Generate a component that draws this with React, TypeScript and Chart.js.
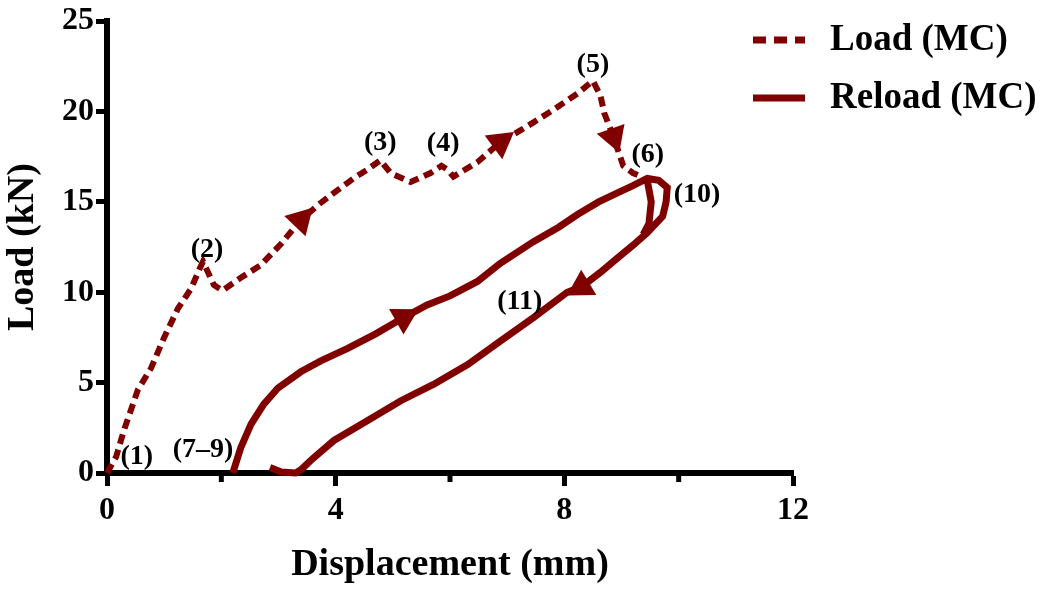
import { useEffect, useRef } from "react";
import { Chart, registerables } from "chart.js";

Chart.register(...registerables);

// Monotonic-cyclic (MC) test: first loading path, in mm / kN
const loadX = [0, 0.16, 0.3, 0.54, 0.77, 1.0, 1.24, 1.47, 1.62, 1.68, 1.87, 2.02, 2.34, 2.69, 3.05, 3.39, 3.72, 3.97, 4.31, 4.56, 4.78, 4.96, 5.31, 5.66, 5.85, 5.95, 6.06, 6.48, 6.88, 7.2, 7.46, 7.81, 8.23, 8.5, 8.63, 8.7, 8.86, 9.03, 9.2, 9.35];
const loadY = [0, 0.9, 2.4, 4.6, 5.8, 7.5, 9.1, 10.2, 11.3, 11.7, 10.4, 10.1, 10.8, 11.5, 12.7, 14.0, 14.9, 15.5, 16.3, 16.8, 17.3, 16.6, 16.1, 16.6, 17.0, 16.8, 16.4, 17.2, 18.3, 18.9, 19.4, 20.1, 21.0, 21.7, 20.9, 19.9, 18.6, 17.0, 16.6, 16.4];

// Reloading / unloading loop (null breaks the inner descending branch off)
const reloadX = [2.2, 2.25, 2.34, 2.52, 2.74, 2.99, 3.39, 3.74, 4.21, 4.7, 5.19, 5.6, 6.0, 6.48, 6.88, 7.46, 7.9, 8.23, 8.6, 8.93, 9.2, 9.45, 9.65, 9.8, 9.78, 9.72, 9.45, 9.2, 8.93, 8.63, 8.3, 8.05, 7.46, 6.88, 6.31, 5.71, 5.14, 4.56, 3.97, 3.6, 3.4, 3.3, 3.05, 2.85, 9.45, 9.45, 9.52, 9.48, 9.38];
const reloadY = [0, 0.5, 1.4, 2.7, 3.8, 4.7, 5.6, 6.2, 6.9, 7.7, 8.6, 9.3, 9.8, 10.6, 11.6, 12.8, 13.6, 14.3, 15.0, 15.5, 15.9, 16.3, 16.2, 15.8, 15.0, 14.2, 13.3, 12.6, 11.9, 11.1, 10.3, 10.0, 8.6, 7.3, 6.0, 4.9, 4.0, 2.9, 1.8, 0.8, 0.2, 0, 0.05, 0.3, null, 16.2, 15.0, 13.8, 13.2];

// Points of each path that carry a direction arrow
const loadArrowIdx = [15, 28, 36];
const reloadArrowIdx = [10, 30];

const seriesNames = ["Load (MC)", "Reload (MC)"];

const xMinorTicks = [2, 6, 10];

// Stage markers along the curves
const stageText = ["(1)", "(2)", "(3)", "(4)", "(5)", "(6)", "(7–9)", "(10)", "(11)"];
const stageX = [0.52, 1.75, 4.78, 5.88, 8.5, 9.46, 1.68, 10.32, 7.22];
const stageY = [0.88, 12.36, 18.3, 18.2, 22.6, 17.6, 1.26, 15.4, 9.5];

const MAROON = "#800000";
const FONT = "'Liberation Serif', 'Times New Roman', serif";

function toPoints(xs: number[], ys: (number | null)[]) {
  return xs.map((x, i) => ({ x, y: ys[i] }));
}

function arrowRotation(xs: number[], ys: (number | null)[]) {
  return (ctx: any) => {
    const i = ctx.dataIndex;
    const sx = ctx.chart.scales?.x;
    const sy = ctx.chart.scales?.y;
    if (i === undefined || !sx || !sy) return 0;
    const a = Math.max(0, i - 1);
    const b = Math.min(xs.length - 1, i + 1);
    const dx = sx.getPixelForValue(xs[b]) - sx.getPixelForValue(xs[a]);
    const dy = sy.getPixelForValue(ys[b] as number) - sy.getPixelForValue(ys[a] as number);
    return (Math.atan2(dy, dx) * 180) / Math.PI + 90;
  };
}

function arrowRadius(idx: number[]) {
  return (ctx: any) => (idx.includes(ctx.dataIndex) ? 17 : 0);
}

const stagePlugin = {
  id: "stageLabels",
  afterDatasetsDraw(chart: any) {
    const { ctx, scales } = chart;
    ctx.save();
    ctx.font = `bold 28px ${FONT}`;
    ctx.fillStyle = "#000";
    ctx.textAlign = "center";
    ctx.textBaseline = "middle";
    stageText.forEach((t, i) => {
      ctx.fillText(t, scales.x.getPixelForValue(stageX[i]), scales.y.getPixelForValue(stageY[i]));
    });
    ctx.restore();
  },
};

const minorTickPlugin = {
  id: "minorTicks",
  afterDraw(chart: any) {
    const { ctx, scales, chartArea } = chart;
    ctx.save();
    ctx.strokeStyle = "#000";
    ctx.lineWidth = 5;
    xMinorTicks.forEach((v) => {
      const px = scales.x.getPixelForValue(v);
      ctx.beginPath();
      ctx.moveTo(px, chartArea.bottom);
      ctx.lineTo(px, chartArea.bottom + 9);
      ctx.stroke();
    });
    ctx.restore();
  },
};

const sideLegendPlugin = {
  id: "sideLegend",
  afterDraw(chart: any) {
    const { ctx } = chart;
    const x0 = 753;
    const x1 = 805;
    const tx = 830;
    const rows = [40, 98];
    ctx.save();
    chart.data.datasets.slice(0, 2).forEach((ds: any, i: number) => {
      const y = rows[i];
      ctx.strokeStyle = ds.borderColor;
      ctx.lineWidth = 7;
      ctx.lineCap = "butt";
      ctx.setLineDash(ds.borderDash && ds.borderDash.length ? [13, 8] : []);
      ctx.beginPath();
      ctx.moveTo(x0, y);
      ctx.lineTo(x1, y);
      ctx.stroke();
      ctx.setLineDash([]);
      ctx.fillStyle = "#000";
      ctx.font = `bold 37px ${FONT}`;
      ctx.textAlign = "left";
      ctx.textBaseline = "middle";
      ctx.fillText(ds.label, tx, y);
    });
    ctx.restore();
  },
};

export default function App() {
  const canvasRef = useRef<HTMLCanvasElement | null>(null);

  useEffect(() => {
    if (!canvasRef.current) return;
    const chart = new Chart(canvasRef.current, {
      type: "scatter",
      data: {
        datasets: [
          {
            label: seriesNames[0],
            data: toPoints(loadX, loadY),
            showLine: true,
            borderColor: MAROON,
            backgroundColor: MAROON,
            borderWidth: 6,
            borderDash: [10, 6],
            tension: 0,
            clip: false,
            pointStyle: "triangle",
            pointRadius: arrowRadius(loadArrowIdx),
            pointHoverRadius: arrowRadius(loadArrowIdx),
            pointRotation: arrowRotation(loadX, loadY),
            pointBackgroundColor: MAROON,
            pointBorderWidth: 0,
          },
          {
            label: seriesNames[1],
            data: toPoints(reloadX, reloadY),
            showLine: true,
            spanGaps: false,
            borderColor: MAROON,
            backgroundColor: MAROON,
            borderWidth: 7,
            tension: 0,
            clip: false,
            pointStyle: "triangle",
            pointRadius: arrowRadius(reloadArrowIdx),
            pointHoverRadius: arrowRadius(reloadArrowIdx),
            pointRotation: arrowRotation(reloadX, reloadY),
            pointBackgroundColor: MAROON,
            pointBorderWidth: 0,
          },
        ] as any,
      },
      options: {
        responsive: false,
        animation: false,
        events: [],
        layout: { padding: { top: 18, right: 255, left: 0, bottom: 0 } },
        plugins: {
          legend: { display: false },
          tooltip: { enabled: false },
        },
        scales: {
          x: {
            type: "linear",
            min: 0,
            max: 12,
            afterFit: (s: any) => {
              s.height = 124;
            },
            ticks: {
              stepSize: 4,
              color: "#000",
              padding: 6,
              font: { family: FONT, size: 32, weight: "bold" },
            },
            grid: {
              drawOnChartArea: false,
              drawTicks: true,
              tickLength: 13,
              tickWidth: 5,
              tickColor: "#000",
            },
            border: { display: true, color: "#000", width: 6 },
            title: {
              display: true,
              text: "Displacement (mm)",
              color: "#000",
              font: { family: FONT, size: 38, weight: "bold" },
              padding: { top: 0, bottom: 9 },
            },
          },
          y: {
            type: "linear",
            min: 0,
            max: 25,
            afterFit: (s: any) => {
              s.width = 107;
            },
            ticks: {
              stepSize: 5,
              color: "#000",
              padding: 2,
              font: { family: FONT, size: 32, weight: "bold" },
            },
            grid: {
              drawOnChartArea: false,
              drawTicks: true,
              tickLength: 11,
              tickWidth: 5,
              tickColor: "#000",
            },
            border: { display: true, color: "#000", width: 6 },
            title: {
              display: true,
              text: "Load (kN)",
              color: "#000",
              font: { family: FONT, size: 38, weight: "bold" },
              padding: { top: 0, bottom: 0 },
            },
          },
        },
      } as any,
      plugins: [stagePlugin, minorTickPlugin, sideLegendPlugin],
    });
    return () => chart.destroy();
  }, []);

  return (
    <div style={{ position: "fixed", left: 0, top: 0, width: 1048, height: 597, background: "#fff" }}>
      <canvas ref={canvasRef} width={1048} height={597} />
    </div>
  );
}
